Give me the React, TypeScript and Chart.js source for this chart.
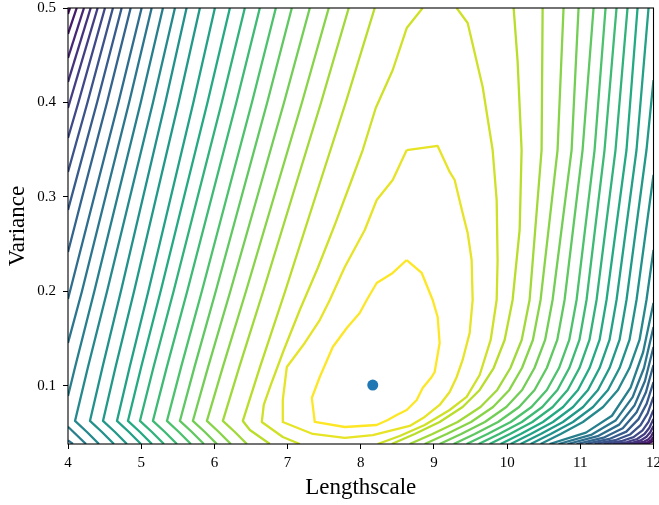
import React, { useEffect, useRef } from "react";
import { Chart, registerables } from "chart.js";

Chart.register(...registerables);

type Pt = [number, number];

// ---- axes ----
const xTicks = [4, 5, 6, 7, 8, 9, 10, 11, 12];
const yTicks = [0.1, 0.2, 0.3, 0.4, 0.5];
const xMin = 4;
const xMax = 12;
const yMin = 0.0386;
const yMax = 0.5;
const levelMax = 28;
const optimum: Pt = [8.164, 0.101];

// ---- left branches (top / left edge -> bottom) ----
const left01: Pt[] = [[4.027, 0.5], [4.0, 0.4937]];
const left02: Pt[] = [[4.119, 0.5], [4.0, 0.4725]];
const left03: Pt[] = [[4.218, 0.5], [4.0, 0.4471]];
const left04: Pt[] = [[4.31, 0.5], [4.0, 0.4217]];
const left05: Pt[] = [[4.405, 0.5], [4.0, 0.3942]];
const left06: Pt[] = [[4.505, 0.5], [4.142, 0.4], [4.0, 0.3624]];
const left07: Pt[] = [[4.614, 0.5], [4.266, 0.4], [4.0, 0.3265]];
const left08: Pt[] = [[4.733, 0.5], [4.397, 0.4], [4.0, 0.2862]];
const left09: Pt[] = [[4.856, 0.5], [4.533, 0.4], [4.194, 0.3], [4.0, 0.2418]];
const left10: Pt[] = [[5.006, 0.5], [4.689, 0.4], [4.357, 0.3], [4.0, 0.192]];
const left11: Pt[] = [[5.143, 0.5], [4.835, 0.4], [4.512, 0.3], [4.19, 0.2], [4.0, 0.1455]];
const left11b: Pt[] = [[4.0, 0.0424], [4.068, 0.0386]];
const left12: Pt[] = [[5.297, 0.5], [4.994, 0.4], [4.676, 0.3], [4.359, 0.2], [4.097, 0.12], [4.0, 0.0894]];
const left12b: Pt[] = [[4.0, 0.0569], [4.246, 0.0386]];
const left13: Pt[] = [[5.461, 0.5], [5.161, 0.4], [4.847, 0.3], [4.533, 0.2], [4.273, 0.12], [4.096, 0.063], [4.259, 0.0513], [4.423, 0.0386]];
const left14: Pt[] = [[5.62, 0.5], [5.33, 0.4], [5.026, 0.3], [4.722, 0.2], [4.472, 0.12], [4.3, 0.063], [4.464, 0.0513], [4.628, 0.0386]];
const left15: Pt[] = [[5.802, 0.5], [5.511, 0.4], [5.206, 0.3], [4.902, 0.2], [4.65, 0.12], [4.478, 0.063], [4.642, 0.0513], [4.805, 0.0386]];
const left16: Pt[] = [[6.007, 0.5], [5.713, 0.4], [5.405, 0.3], [5.097, 0.2], [4.843, 0.12], [4.669, 0.063], [4.833, 0.0513], [4.997, 0.0386]];
const left17: Pt[] = [[6.212, 0.5], [5.906, 0.4], [5.585, 0.3], [5.265, 0.2], [5.0, 0.12], [4.819, 0.063], [4.983, 0.0513], [5.147, 0.0386]];
const left18: Pt[] = [[6.416, 0.5], [6.101, 0.4], [5.771, 0.3], [5.442, 0.2], [5.169, 0.12], [4.983, 0.063], [5.147, 0.0513], [5.311, 0.0386]];
const left19: Pt[] = [[6.621, 0.5], [6.3, 0.4], [5.964, 0.3], [5.628, 0.2], [5.35, 0.12], [5.16, 0.063], [5.324, 0.0513], [5.488, 0.0386]];
const left20: Pt[] = [[6.84, 0.5], [6.513, 0.4], [6.17, 0.3], [5.828, 0.2], [5.545, 0.12], [5.352, 0.063], [5.515, 0.0513], [5.679, 0.0386]];
const left21: Pt[] = [[7.058, 0.5], [6.722, 0.4], [6.37, 0.3], [6.018, 0.2], [5.728, 0.12], [5.529, 0.063], [5.693, 0.0513], [5.857, 0.0386]];
const left22: Pt[] = [[7.304, 0.5], [6.952, 0.4], [6.585, 0.3], [6.217, 0.2], [5.914, 0.12], [5.706, 0.063], [5.87, 0.0513], [6.034, 0.0386]];
const left23: Pt[] = [[7.563, 0.5], [7.197, 0.4], [6.814, 0.3], [6.431, 0.2], [6.115, 0.12], [5.898, 0.063], [6.061, 0.0513], [6.225, 0.0386]];
const left24: Pt[] = [[7.836, 0.5], [7.458, 0.4], [7.062, 0.3], [6.666, 0.2], [6.34, 0.12], [6.116, 0.063], [6.28, 0.0513], [6.444, 0.0386]];
const left25: Pt[] = [[8.191, 0.5], [7.795, 0.4], [7.38, 0.3], [6.966, 0.2], [6.623, 0.12], [6.389, 0.063], [6.485, 0.0534], [6.758, 0.0386]];

// ---- the open U-shaped contour ----
const uLeft: Pt[] = [[8.846, 0.5], [8.628, 0.4788], [8.437, 0.4344], [8.205, 0.3942], [8.027, 0.3497], [7.85, 0.3127], [7.645, 0.2704], [7.413, 0.2249], [7.167, 0.1804], [6.949, 0.1381], [6.771, 0.1011], [6.675, 0.0799], [6.648, 0.0619], [6.935, 0.046], [7.167, 0.0386]];
const uRight: Pt[] = [[9.311, 0.5], [9.461, 0.4841], [9.666, 0.4164], [9.802, 0.3497], [9.857, 0.2968], [9.87, 0.2333], [9.857, 0.191], [9.775, 0.1487], [9.625, 0.1116], [9.447, 0.0884], [9.215, 0.0746], [8.874, 0.0587], [8.532, 0.0471], [8.232, 0.0386]];

// ---- closed contours around the optimum ----
const loop27: Pt[] = [[8.628, 0.3497], [9.051, 0.354], [9.215, 0.3265], [9.283, 0.318], [9.392, 0.2831], [9.461, 0.2619], [9.515, 0.2333], [9.529, 0.191], [9.488, 0.1561], [9.392, 0.1275], [9.311, 0.1095], [9.215, 0.0937], [9.078, 0.0799], [8.874, 0.0672], [8.669, 0.0577], [8.164, 0.0481], [7.782, 0.045], [7.345, 0.0492], [6.935, 0.0619], [6.935, 0.0852], [6.99, 0.1201], [7.235, 0.1455], [7.44, 0.1698], [7.577, 0.191], [7.782, 0.2259], [8.055, 0.2651], [8.218, 0.2968], [8.437, 0.318], [8.628, 0.3497]];
const loop28: Pt[] = [[8.628, 0.2333], [8.833, 0.2196], [8.983, 0.191], [9.051, 0.173], [9.078, 0.1455], [9.01, 0.1148], [8.969, 0.1095], [8.846, 0.0979], [8.765, 0.0852], [8.628, 0.0746], [8.491, 0.0693], [8.369, 0.064], [8.218, 0.0587], [7.782, 0.0566], [7.372, 0.0619], [7.331, 0.0873], [7.44, 0.1095], [7.618, 0.1413], [7.809, 0.1614], [7.986, 0.1772], [8.082, 0.191], [8.218, 0.209], [8.437, 0.2196], [8.628, 0.2333]];

// ---- right branches (bottom -> top / right edge) ----
const right25: Pt[] = [[8.423, 0.0386], [8.737, 0.0492], [9.078, 0.0619], [9.392, 0.0778], [9.625, 0.0958], [9.816, 0.119], [9.966, 0.1487], [10.075, 0.191], [10.171, 0.2651], [10.198, 0.3497], [10.143, 0.4439], [10.089, 0.5]];
const right24: Pt[] = [[8.669, 0.0386], [8.98, 0.0492], [9.324, 0.0619], [9.636, 0.0778], [9.865, 0.0958], [10.045, 0.119], [10.199, 0.1487], [10.307, 0.191], [10.471, 0.3497], [10.485, 0.5]];
const right23: Pt[] = [[8.874, 0.0386], [9.174, 0.0492], [9.507, 0.0619], [9.808, 0.0778], [10.03, 0.0958], [10.203, 0.119], [10.352, 0.1487], [10.457, 0.191], [10.689, 0.3497], [10.771, 0.5]];
const right22: Pt[] = [[9.078, 0.0386], [9.372, 0.0492], [9.696, 0.0619], [9.989, 0.0778], [10.205, 0.0958], [10.374, 0.119], [10.519, 0.1487], [10.621, 0.191], [10.881, 0.3497], [10.976, 0.5]];
const right21: Pt[] = [[9.27, 0.0386], [9.558, 0.0492], [9.876, 0.0619], [10.164, 0.0778], [10.375, 0.0958], [10.542, 0.119], [10.685, 0.1487], [10.785, 0.191], [11.031, 0.3497], [11.181, 0.5]];
const right20: Pt[] = [[9.447, 0.0386], [9.732, 0.0492], [10.048, 0.0619], [10.333, 0.0778], [10.543, 0.0958], [10.709, 0.119], [10.849, 0.1487], [10.949, 0.191], [11.195, 0.3497], [11.345, 0.5]];
const right19: Pt[] = [[9.611, 0.0386], [9.891, 0.0492], [10.201, 0.0619], [10.481, 0.0778], [10.687, 0.0958], [10.849, 0.119], [10.988, 0.1487], [11.085, 0.191], [11.331, 0.3497], [11.495, 0.5]];
const right18: Pt[] = [[9.761, 0.0386], [10.038, 0.0492], [10.345, 0.0619], [10.623, 0.0778], [10.827, 0.0958], [10.988, 0.119], [11.125, 0.1487], [11.222, 0.191], [11.481, 0.3497], [11.645, 0.5]];
const right17: Pt[] = [[9.911, 0.0386], [10.186, 0.0492], [10.49, 0.0619], [10.765, 0.0778], [10.968, 0.0958], [11.126, 0.119], [11.263, 0.1487], [11.358, 0.191], [11.631, 0.3497], [11.782, 0.5]];
const right16: Pt[] = [[10.048, 0.0386], [10.322, 0.0492], [10.627, 0.0619], [10.901, 0.0778], [11.105, 0.0958], [11.263, 0.119], [11.399, 0.1487], [11.495, 0.191], [11.768, 0.3497], [11.932, 0.5]];
const right15: Pt[] = [[10.184, 0.0386], [10.459, 0.0492], [10.763, 0.0619], [11.038, 0.0778], [11.241, 0.0958], [11.399, 0.119], [11.536, 0.1487], [11.631, 0.191], [11.904, 0.3497], [12.0, 0.4238]];
const right14: Pt[] = [[10.321, 0.0386], [10.595, 0.0492], [10.9, 0.0619], [11.174, 0.0778], [11.378, 0.0958], [11.536, 0.119], [11.672, 0.1487], [11.768, 0.191], [12.0, 0.3233]];
const right13: Pt[] = [[10.457, 0.0386], [10.732, 0.0492], [11.036, 0.0619], [11.311, 0.0778], [11.514, 0.0958], [11.672, 0.119], [11.809, 0.1487], [11.904, 0.191], [12.0, 0.2439]];
const right12: Pt[] = [[10.58, 0.0386], [11.077, 0.0506], [11.432, 0.0685], [11.687, 0.0983], [11.858, 0.1357], [12.0, 0.1878]];
const right11: Pt[] = [[10.703, 0.0386], [11.157, 0.0486], [11.481, 0.0634], [11.715, 0.0882], [11.87, 0.119], [12.0, 0.1624]];
const right10: Pt[] = [[10.826, 0.0386], [11.237, 0.0469], [11.531, 0.0591], [11.742, 0.0797], [11.883, 0.1053], [12.0, 0.1413]];
const right09: Pt[] = [[10.949, 0.0386], [11.317, 0.0453], [11.58, 0.0553], [11.769, 0.0721], [11.895, 0.093], [12.0, 0.1222]];
const right08: Pt[] = [[11.072, 0.0386], [11.397, 0.0439], [11.629, 0.0517], [11.795, 0.0649], [11.907, 0.0813], [12.0, 0.1042]];
const right07: Pt[] = [[11.195, 0.0386], [11.476, 0.0426], [11.678, 0.0486], [11.823, 0.0585], [11.92, 0.071], [12.0, 0.0884]];
const right06: Pt[] = [[11.317, 0.0386], [11.556, 0.0415], [11.727, 0.0458], [11.85, 0.053], [11.932, 0.062], [12.0, 0.0746]];
const right05: Pt[] = [[11.44, 0.0386], [11.637, 0.0407], [11.776, 0.0439], [11.877, 0.0492], [11.944, 0.0558], [12.0, 0.0651]];
const right04: Pt[] = [[11.563, 0.0386], [11.716, 0.0401], [11.825, 0.0424], [11.904, 0.0462], [11.956, 0.051], [12.0, 0.0577]];
const right03: Pt[] = [[11.686, 0.0386], [11.795, 0.0397], [11.874, 0.0412], [11.932, 0.0437], [11.969, 0.0469], [12.0, 0.0513]];
const right02: Pt[] = [[11.809, 0.0386], [11.918, 0.0402], [11.973, 0.0429], [12.0, 0.046]];
const right01: Pt[] = [[11.904, 0.0386], [12.0, 0.0418]];

const contours: { level: number; pts: Pt[] }[] = [
  { level: 1, pts: left01 }, { level: 2, pts: left02 }, { level: 3, pts: left03 },
  { level: 4, pts: left04 }, { level: 5, pts: left05 }, { level: 6, pts: left06 },
  { level: 7, pts: left07 }, { level: 8, pts: left08 }, { level: 9, pts: left09 },
  { level: 10, pts: left10 }, { level: 11, pts: left11 }, { level: 11, pts: left11b },
  { level: 12, pts: left12 }, { level: 12, pts: left12b }, { level: 13, pts: left13 },
  { level: 14, pts: left14 }, { level: 15, pts: left15 }, { level: 16, pts: left16 },
  { level: 17, pts: left17 }, { level: 18, pts: left18 }, { level: 19, pts: left19 },
  { level: 20, pts: left20 }, { level: 21, pts: left21 }, { level: 22, pts: left22 },
  { level: 23, pts: left23 }, { level: 24, pts: left24 }, { level: 25, pts: left25 },
  { level: 26, pts: uLeft }, { level: 26, pts: uRight },
  { level: 27, pts: loop27 }, { level: 28, pts: loop28 },
  { level: 25, pts: right25 }, { level: 24, pts: right24 }, { level: 23, pts: right23 },
  { level: 22, pts: right22 }, { level: 21, pts: right21 }, { level: 20, pts: right20 },
  { level: 19, pts: right19 }, { level: 18, pts: right18 }, { level: 17, pts: right17 },
  { level: 16, pts: right16 }, { level: 15, pts: right15 }, { level: 14, pts: right14 },
  { level: 13, pts: right13 }, { level: 12, pts: right12 }, { level: 11, pts: right11 },
  { level: 10, pts: right10 }, { level: 9, pts: right09 }, { level: 8, pts: right08 },
  { level: 7, pts: right07 }, { level: 6, pts: right06 }, { level: 5, pts: right05 },
  { level: 4, pts: right04 }, { level: 3, pts: right03 }, { level: 2, pts: right02 },
  { level: 1, pts: right01 },
];

// viridis colour map anchors
const viridis = [
  "#440154", "#482475", "#414487", "#355f8d", "#2a788e", "#21918c",
  "#22a884", "#44bf70", "#7ad151", "#bddf26", "#fde725",
];

function hexToRgb(h: string) {
  return [parseInt(h.slice(1, 3), 16), parseInt(h.slice(3, 5), 16), parseInt(h.slice(5, 7), 16)];
}

function viridisAt(t: number) {
  const s = Math.max(0, Math.min(1, t)) * (viridis.length - 1);
  const i = Math.min(viridis.length - 2, Math.floor(s));
  const f = s - i;
  const a = hexToRgb(viridis[i]);
  const b = hexToRgb(viridis[i + 1]);
  const c = a.map((v, k) => Math.round(v + (b[k] - v) * f));
  return `rgb(${c[0]},${c[1]},${c[2]})`;
}

const FONT = "'Liberation Serif', 'Times New Roman', serif";

const boxPlugin = {
  id: "box",
  afterDraw(chart: any) {
    const { ctx, chartArea } = chart;
    ctx.save();
    ctx.strokeStyle = "#000";
    ctx.lineWidth = 1.1;
    ctx.strokeRect(chartArea.left, chartArea.top, chartArea.right - chartArea.left, chartArea.bottom - chartArea.top);
    ctx.restore();
  },
};

export default function App() {
  const ref = useRef<HTMLCanvasElement | null>(null);

  useEffect(() => {
    if (!ref.current) return;
    const datasets: any[] = [
      {
        data: [{ x: optimum[0], y: optimum[1] }],
        showLine: false,
        pointRadius: 5.5,
        pointBackgroundColor: "#1f77b4",
        pointBorderWidth: 0,
      },
    ];
    contours.forEach((c) => {
      datasets.push({
        data: c.pts.map(([x, y]) => ({ x, y })),
        showLine: true,
        borderColor: viridisAt(c.level / levelMax),
        borderWidth: 2.3,
        pointRadius: 0,
        fill: false,
        tension: 0,
        borderJoinStyle: "round",
      });
    });

    const chart = new Chart(ref.current, {
      type: "scatter",
      data: { datasets },
      plugins: [boxPlugin],
      options: {
        animation: false,
        responsive: true,
        maintainAspectRatio: false,
        layout: { padding: { top: 8, right: 5, left: 0, bottom: 0 } },
        plugins: { legend: { display: false }, tooltip: { enabled: false } },
        scales: {
          x: {
            type: "linear",
            min: xMin,
            max: xMax,
            afterBuildTicks: (s: any) => {
              s.ticks = xTicks.map((v) => ({ value: v }));
            },
            afterFit: (s: any) => {
              s.height = 61;
              s.paddingLeft = 0;
              s.paddingRight = 0;
            },
            ticks: {
              font: { family: FONT, size: 15 },
              color: "#000",
              padding: 5,
              maxRotation: 0,
              autoSkip: false,
              callback: (v: any) => String(v),
            },
            grid: { drawOnChartArea: false, drawTicks: true, tickLength: 5, color: "#000" },
            border: { display: false },
            title: {
              display: true,
              text: "Lengthscale",
              font: { family: FONT, size: 23 },
              color: "#000",
              padding: { top: 0, bottom: 3 },
            },
          },
          y: {
            type: "linear",
            min: yMin,
            max: yMax,
            afterBuildTicks: (s: any) => {
              s.ticks = yTicks.map((v) => ({ value: v }));
            },
            afterFit: (s: any) => {
              s.width = 68;
              s.paddingTop = 0;
              s.paddingBottom = 0;
            },
            ticks: {
              font: { family: FONT, size: 15 },
              color: "#000",
              padding: 7,
              autoSkip: false,
              callback: (v: any) => Number(v).toFixed(1),
            },
            grid: { drawOnChartArea: false, drawTicks: true, tickLength: 5, color: "#000" },
            border: { display: false },
            title: {
              display: true,
              text: "Variance",
              font: { family: FONT, size: 23 },
              color: "#000",
              padding: { top: 4, bottom: 0 },
            },
          },
        },
      } as any,
    });
    return () => chart.destroy();
  }, []);

  return (
    <div style={{ position: "absolute", left: 0, top: 0, width: 659, height: 505 }}>
      <canvas ref={ref} />
    </div>
  );
}
